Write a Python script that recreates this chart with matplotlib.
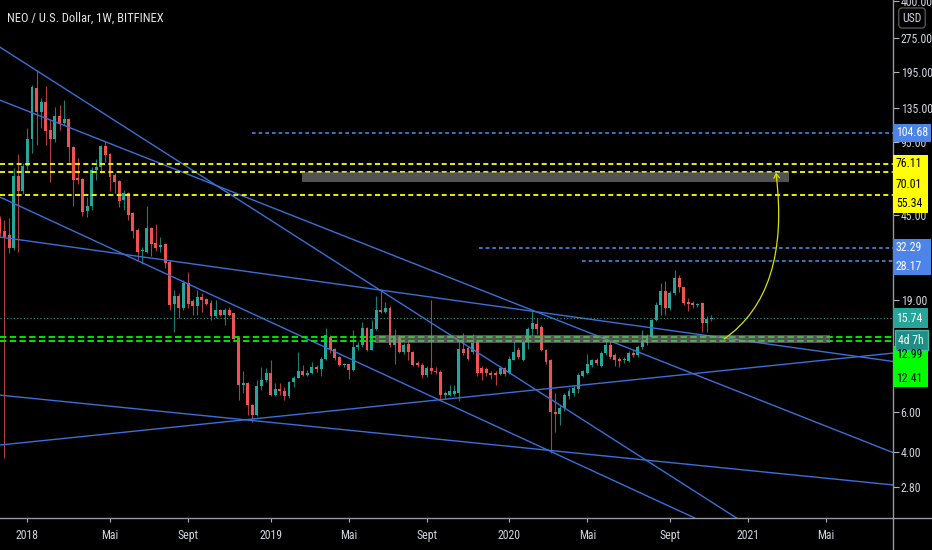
import numpy as np
import pandas as pd
import matplotlib
matplotlib.use('Agg')
import matplotlib.pyplot as plt
import matplotlib.transforms as mtransforms
from matplotlib import font_manager
from matplotlib.patches import Rectangle, FancyArrowPatch
from matplotlib.path import Path
from matplotlib.lines import Line2D

# pick a narrow face if one is installed
installed = {f.name for f in font_manager.fontManager.ttflist}
narrow = [f for f in ['Liberation Sans Narrow', 'DejaVu Sans Condensed', 'Roboto Condensed',
                      'Open Sans Condensed', 'Noto Sans Condensed'] if f in installed]
plt.rcParams['font.family'] = narrow + ['DejaVu Sans']
plt.rcParams['lines.scale_dashes'] = False
label_size = 8.5 if narrow else 7.5

# weekly candles, first one is the week of 2017-11-20 (index -6), 2018-01-01 is index 0
first_week = '2017-11-20'
opens = [43.2, 38.3, 36.6, 32.2, 67.1, 57.6,
         74.5, 97.9, 164.9, 129.1, 142.9, 107.4, 97.9, 124.2, 115.4, 120.1,
         90.2, 65.7, 65.1, 47.0, 49.2, 71.4, 73.6, 91.0, 84.1, 67.8,
         63.7, 52.5, 56.4, 45.9, 38.7, 31.2, 30.8, 39.5, 33.9, 32.5,
         33.6, 27.9, 18.2, 19.8, 17.4, 22.5, 18.7, 17.8, 19.6, 19.1,
         18.4, 16.0, 17.0, 16.3, 17.1, 16.5, 12.8, 7.94, 8.13, 6.5,
         5.85, 7.85, 8.35, 9.0, 7.17, 7.6, 7.46, 7.1, 8.2, 8.55,
         9.2, 8.8, 9.0, 9.5, 9.35, 10.4, 13.0, 11.5, 10.6, 9.7,
         9.8, 9.25, 11.7, 12.0, 14.2, 11.4, 14.1, 17.1, 16.8, 17.4,
         12.0, 13.0, 11.1, 12.1, 11.1, 9.9, 9.75, 8.8, 9.4, 9.15,
         9.05, 7.17, 7.2, 7.25, 7.3, 11.5, 11.6, 11.1, 12.3, 9.4,
         9.35, 9.0, 9.0, 8.9, 9.4, 9.0, 10.3, 11.3, 10.3, 12.3,
         14.1, 14.8, 14.4, 11.4, 10.2, 6.0, 5.9, 6.3, 7.1, 7.35,
         7.6, 8.7, 9.0, 9.75, 10.2, 9.6, 11.0, 12.0, 10.8, 10.4,
         10.2, 10.1, 11.0, 10.8, 11.7, 12.2, 13.0, 15.4, 18.0, 20.8,
         17.4, 20.3, 23.6, 21.6, 18.5, 18.3, 17.9, 18.3, 15.0, 15.6]
highs = [44.5, 42.8, 43.7, 73.0, 84.1, 76.7,
         109.6, 170.0, 198.0, 148.9, 168.3, 118.9, 135.8, 138.6, 145.9, 121.0,
         91.0, 80.6, 65.7, 54.1, 73.6, 79.8, 92.0, 95.9, 85.0, 69.3,
         64.4, 58.2, 57.0, 46.5, 39.5, 32.5, 49.2, 39.8, 41.1, 35.9,
         33.9, 28.5, 20.9, 20.3, 23.2, 25.2, 19.1, 20.9, 20.4, 19.3,
         18.9, 18.9, 17.3, 17.4, 17.6, 16.6, 12.9, 9.15, 8.2, 6.55,
         8.35, 9.55, 9.4, 10.2, 8.1, 8.1, 7.8, 8.3, 8.7, 11.1,
         9.75, 9.3, 10.0, 9.7, 10.6, 14.2, 13.2, 11.6, 10.7, 9.9,
         9.85, 13.9, 12.3, 15.1, 14.4, 15.4, 19.8, 21.1, 18.6, 17.8,
         14.0, 13.2, 12.2, 12.4, 11.2, 10.1, 9.9, 9.6, 19.0, 9.5,
         9.25, 7.5, 7.9, 7.9, 12.6, 13.5, 11.8, 13.4, 12.4, 9.6,
         9.5, 9.15, 9.15, 9.6, 9.5, 10.7, 12.6, 11.7, 12.6, 14.4,
         16.9, 15.7, 14.6, 11.5, 10.4, 7.3, 6.5, 7.3, 7.7, 7.9,
         9.0, 9.3, 10.9, 10.4, 10.5, 11.2, 12.8, 12.6, 11.0, 10.6,
         10.6, 11.2, 11.3, 12.0, 13.9, 13.4, 15.6, 18.6, 22.6, 22.9,
         20.7, 25.6, 24.4, 21.7, 19.3, 18.8, 18.4, 18.5, 16.0, 16.2]
lows = [36.5, 3.76, 30.5, 31.5, 30.8, 55.7,
        71.4, 85.0, 92.1, 109.6, 92.1, 63.1, 95.0, 107.4, 113.0, 77.4,
        49.2, 61.8, 44.6, 44.1, 47.4, 64.4, 69.3, 77.4, 57.6, 56.4,
        48.9, 47.4, 42.8, 35.6, 28.5, 27.3, 30.5, 29.8, 31.2, 30.8,
        26.2, 17.1, 13.6, 15.7, 17.1, 17.5, 16.3, 16.3, 16.8, 17.9,
        15.4, 15.7, 16.0, 14.7, 16.0, 12.4, 6.81, 7.3, 5.83, 5.46,
        5.8, 7.54, 8.2, 7.1, 7.1, 7.2, 6.8, 6.95, 7.8, 8.5,
        8.7, 8.7, 8.9, 9.1, 8.7, 10.2, 11.0, 10.3, 9.6, 9.5,
        8.45, 9.2, 11.4, 11.7, 11.2, 11.3, 13.9, 16.6, 16.5, 11.7,
        9.8, 11.0, 10.9, 10.2, 9.6, 9.5, 8.5, 8.6, 8.9, 8.85,
        6.81, 6.9, 7.1, 7.1, 6.75, 10.8, 10.2, 10.9, 8.7, 8.35,
        8.7, 8.4, 7.9, 8.8, 8.7, 8.9, 10.2, 10.4, 10.1, 11.5,
        13.2, 13.4, 11.2, 9.8, 3.97, 4.9, 5.3, 6.1, 6.9, 7.1,
        7.3, 8.6, 8.9, 9.5, 9.7, 9.5, 10.8, 10.4, 9.6, 9.5,
        9.9, 10.0, 10.6, 10.6, 11.5, 12.0, 12.8, 15.3, 16.3, 16.3,
        17.0, 20.0, 20.5, 17.9, 16.9, 17.5, 17.6, 13.7, 13.7, 15.2]
closes = [37.6, 35.9, 32.2, 67.1, 57.6, 74.5,
          97.9, 166.5, 129.1, 142.9, 106.3, 97.9, 124.2, 115.4, 120.1, 90.2,
          64.4, 64.4, 46.5, 49.6, 71.4, 73.6, 91.0, 83.3, 66.4, 63.1,
          52.0, 56.4, 45.0, 38.3, 30.8, 31.5, 39.5, 33.6, 32.2, 33.3,
          27.6, 18.0, 19.8, 17.4, 22.5, 18.2, 17.8, 19.6, 18.9, 18.2,
          16.0, 17.0, 16.3, 17.1, 16.3, 12.7, 7.94, 8.13, 6.47, 5.85,
          7.85, 8.35, 9.0, 7.17, 7.6, 7.43, 7.1, 8.2, 8.55, 9.2,
          8.8, 9.0, 9.5, 9.35, 10.4, 13.2, 11.3, 10.5, 9.7, 9.75,
          9.25, 11.7, 12.0, 14.2, 11.4, 14.1, 17.1, 16.8, 17.5, 12.0,
          13.0, 11.1, 12.0, 11.1, 9.7, 9.7, 8.8, 9.4, 9.15, 9.05,
          7.17, 7.3, 7.43, 7.43, 11.5, 11.0, 10.4, 12.2, 9.0, 9.0,
          9.0, 8.8, 8.8, 9.4, 8.9, 10.4, 11.1, 10.6, 12.3, 14.1,
          14.9, 14.1, 11.3, 10.0, 6.0, 5.9, 6.3, 7.17, 7.5, 7.7,
          8.8, 9.2, 9.8, 10.2, 9.9, 11.0, 11.9, 10.6, 10.2, 10.1,
          10.4, 11.0, 10.8, 11.7, 12.4, 13.0, 15.5, 18.0, 20.8, 17.4,
          20.3, 23.6, 21.6, 18.3, 18.1, 17.9, 18.1, 15.0, 15.6, 15.74]

# horizontal levels (price, first week index)
blue_levels = [104.68, 32.29, 28.17]
blue_starts = [49, 98.5, 120.8]
yellow_levels = [76.11, 70.01, 55.34]
green_levels = [12.99, 12.41]
last_price = 15.74

# grey zones: week from/to, price low/high
zone_w0 = [59.8, 75.7]
zone_w1 = [165.9, 174.9]
zone_lo = [63.1, 12.19]
zone_hi = [69.9, 13.22]

# trend lines, two anchor points each (week index, price)
tl_w0 = [-6, -6, -6, -6, -6, -6]
tl_p0 = [250.7, 145.9, 36.0, 4.30, 7.16, 54.2]
tl_w1 = [155, 188.6, 188.6, 188.6, 188.6, 145.4]
tl_p1 = [2.01, 3.98, 10.1, 11.0, 2.86, 2.04]

# projected move arrow (start, control, end)
arrow_w = [151.8, 166.3, 163.1]
arrow_p = [12.7, 20.5, 69.5]

# scale ticks that are not hidden behind the price labels
yticks = [400, 275, 195, 135, 95, 45, 19, 6, 4, 2.8]

up, down = '#26a69a', '#ef5350'
blue = '#3a6fd8'
txt = '#d1d4dc'

W, H = 932, 550
fig = plt.figure(figsize=(W / 100, H / 100), dpi=100, facecolor='black')
ax = fig.add_axes([0, 32 / H, 893 / W, 518 / H])
ax.set_facecolor('black')
ax.set_yscale('log')
ax.set_xlim(-5.97, 188.6)
ax.set_ylim(2.04, 405.7)

o = np.array(opens); h = np.array(highs); l = np.array(lows); c = np.array(closes)
n = len(o)
dates = pd.date_range(first_week, periods=195, freq='W-MON')
idx = np.arange(len(dates)) - 6
xs = idx[:n]

cols = np.where(c >= o, up, down)
ax.vlines(xs, l, h, colors=cols, lw=0.8, alpha=0.75, zorder=2)
bot = np.minimum(o, c)
top = np.maximum(np.maximum(o, c), bot * 1.01)
ax.bar(xs, top - bot, bottom=bot, width=0.64, color=cols, zorder=3, linewidth=0)

# trend lines
for a, b, cc, d in zip(tl_w0, tl_p0, tl_w1, tl_p1):
    ax.plot([a, cc], [b, d], color=blue, lw=1, zorder=4)

# levels
for lv, st in zip(blue_levels, blue_starts):
    ax.plot([st, 188.6], [lv, lv], color='#4a86e8', lw=1.2, dashes=(2.6, 2.2), zorder=4)
for lv in yellow_levels:
    ax.plot([-6, 188.6], [lv, lv], color='#ffff00', lw=1.3, dashes=(3.6, 2.4), zorder=4)
for lv in green_levels:
    ax.plot([-6, 188.6], [lv, lv], color='#00e600', lw=1.4, dashes=(4.6, 2.4), zorder=4)
ax.plot([-6, 188.6], [last_price, last_price], color=up, lw=0.8, dashes=(0.8, 1.6), zorder=4)

for a, b, lo, hi in zip(zone_w0, zone_w1, zone_lo, zone_hi):
    ax.add_patch(Rectangle((a, lo), b - a, hi - lo, facecolor='#8a8a8a', alpha=0.6,
                           edgecolor='none', zorder=5))

arrow_path = Path(list(zip(arrow_w, arrow_p)), [Path.MOVETO, Path.CURVE3, Path.CURVE3])
ax.add_patch(FancyArrowPatch(path=arrow_path, arrowstyle='->,head_length=3,head_width=2',
                             color='#dede00', lw=0.9, zorder=6))

# x ticks at the first week of Jan / May / Sep
months = {1: None, 5: 'Mai', 9: 'Sept'}
tick_pos, tick_lab = [], []
for d, i in zip(dates, idx):
    if d.month in months and d.day <= 7:
        tick_pos.append(i)
        tick_lab.append(str(d.year) if d.month == 1 else months[d.month])
ax.set_xticks(tick_pos)
ax.set_xticklabels(tick_lab)

ax.yaxis.tick_right()
ax.set_yticks(yticks)
ax.set_yticklabels([f'{v:.2f}' for v in yticks])
ax.yaxis.set_minor_locator(matplotlib.ticker.NullLocator())
ax.tick_params(axis='y', direction='out', length=4, pad=1.5, labelsize=label_size,
               colors='#b2b5be', labelcolor=txt)
ax.tick_params(axis='x', direction='out', length=3, pad=5, labelsize=label_size,
               colors='#b2b5be', labelcolor=txt)
for s in ax.spines.values():
    s.set_visible(False)

fig.add_artist(Line2D([893 / W, 893 / W], [0, 1], color='#9598a1', lw=1))
fig.add_artist(Line2D([0, 1], [32 / H, 32 / H], color='#9598a1', lw=1))

# price label boxes on the right scale
ident = mtransforms.IdentityTransform()


def label_box(texts, prices, shifts, face, fg, x0=893, x1=928, pad=9, edge='none'):
    ys = [ax.transData.transform((0, p))[1] - s for p, s in zip(prices, shifts)]
    fig.add_artist(Rectangle((x0, ys[-1] - pad), x1 - x0, ys[0] - ys[-1] + 2 * pad,
                             transform=ident, facecolor=face, edgecolor=edge, lw=1, zorder=5))
    for t, y in zip(texts, ys):
        fig.text(x0 + 3, y, t, transform=ident, color=fg, fontsize=label_size,
                 ha='left', va='center', zorder=6)


label_box(['104.68'], [104.68], [0], '#4c84e8', 'white', x1=931)
label_box(['76.11', '70.01', '55.34'], yellow_levels, [0, 13, 9], '#ffff00', 'black')
label_box(['32.29', '28.17'], [32.29, 28.17], [0, 5], '#4c84e8', 'white', x1=931, pad=8.5)
label_box(['12.99', '12.41'], green_levels, [18, 37], '#00ff00', 'black')
label_box(['15.74'], [last_price], [0], up, 'white', pad=10)
label_box(['4d 7h'], [last_price], [22], '#1f8f85', 'white', x0=895, pad=10, edge='#4db6ac')

fig.text(912, H - 18, 'USD', transform=ident, color=txt, fontsize=label_size, ha='center',
         va='center', bbox=dict(boxstyle='round,pad=0.3', fc='black', ec='#555555', lw=1),
         zorder=6)
fig.text(7, H - 18, 'NEO / U.S. Dollar, 1W, BITFINEX', transform=ident, color='#e6e6e6',
         fontsize=9 if narrow else 8, ha='left', va='center', zorder=6)

fig.savefig('out.png', dpi=100, facecolor='black')
